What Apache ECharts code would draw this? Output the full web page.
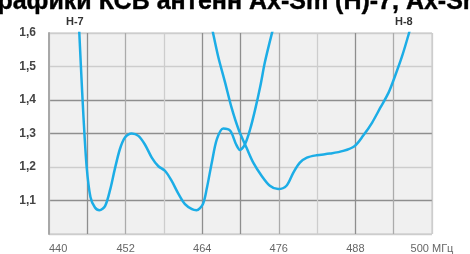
<!DOCTYPE html>
<html>
<head>
<meta charset="utf-8">
<script src="https://cdn.jsdelivr.net/npm/echarts/dist/echarts.min.js"></script>
<style>
    html, body {
        margin: 0;
        padding: 0;
        background: #fff;
    }

    #chart {
        width: 470px;
        height: 254px;
    }
</style>
</head>
<body>
<div id="chart"></div>
<script>
    // частота, МГц / КСВ
    var h7Freq = [444.65, 445.0, 445.4, 445.9, 446.5, 447.2, 447.9, 448.8, 449.6,
        450.3, 451.1, 451.9, 452.96, 454.0, 455.0, 456.1, 457.1, 458.2, 459.2,
        460.3, 461.3, 462.4, 463.1, 464.1, 464.7, 465.5, 466.3, 467.3, 468.4,
        469.3, 469.9, 470.7, 471.5, 472.3, 473.1, 473.8, 474.6, 475.2];
    var h7Swr = [1.64, 1.5, 1.35, 1.20, 1.11, 1.079, 1.071, 1.084, 1.134,
        1.193, 1.253, 1.288, 1.30, 1.293, 1.268, 1.228, 1.203, 1.188, 1.159,
        1.119, 1.089, 1.074, 1.071, 1.089, 1.134, 1.213, 1.283, 1.315, 1.308,
        1.268, 1.251, 1.268, 1.312, 1.372, 1.441, 1.511, 1.575, 1.62];

    var h8Freq = [465.4, 465.7, 466.5, 467.6, 468.6, 469.7, 471.0, 472.0, 473.3, 474.6, 475.9,
        477.2, 478.3, 479.3, 480.4, 481.9, 484.0, 486.1, 487.9, 489.2, 490.6,
        491.9, 493.2, 494.2, 495.3, 496.4, 496.8];
    var h8Swr = [1.63, 1.6, 1.53, 1.451, 1.377, 1.312, 1.255, 1.213, 1.174, 1.144, 1.134,
        1.144, 1.184, 1.213, 1.228, 1.235, 1.240, 1.248, 1.263, 1.293, 1.332,
        1.377, 1.422, 1.471, 1.53, 1.6, 1.63];

    var xTicks = [440, 452, 464, 476, 488, 500];
    var yTicks = [1.1, 1.2, 1.3, 1.4, 1.5, 1.6];

    var dark = '#8e8e8e', mid = '#ababab', light = '#cdcdcd';

    function pairs(xs, ys) {
        var out = [];
        for (var i = 0; i < xs.length; i++) {
            out.push([xs[i], ys[i]]);
        }
        return out;
    }

    var myChart = echarts.init(document.getElementById('chart'));

    var lineStyle = {color: '#1cade6', width: 2.5};

    var option = {
        animation: false,
        grid: {
            left: 49,
            right: 38,
            top: 33,
            bottom: 19,
            show: true,
            backgroundColor: '#f0f0f0',
            borderColor: '#c4c4c4',
            borderWidth: 1
        },
        graphic: [
            {
                type: 'text',
                left: -16,
                top: -11,
                style: {
                    text: 'Графики КСВ антенн Ах-Sm (Н)-7, Ах-Sm (Н)-8',
                    font: 'bold 25px "Liberation Sans", Arial, sans-serif',
                    fill: '#000',
                    stroke: '#000',
                    lineWidth: 0.4
                }
            },
            {
                type: 'text',
                left: 66,
                top: 16,
                style: {
                    text: 'Н-7',
                    font: 'bold 11px "Liberation Sans", Arial, sans-serif',
                    fill: '#333'
                }
            },
            {
                type: 'text',
                left: 395,
                top: 16,
                style: {
                    text: 'Н-8',
                    font: 'bold 11px "Liberation Sans", Arial, sans-serif',
                    fill: '#333'
                }
            }
        ],
        xAxis: {
            type: 'value',
            min: 440,
            max: 500,
            interval: 6,
            axisLine: {show: false},
            axisTick: {show: false},
            axisLabel: {
                margin: 9,
                color: '#666',
                fontSize: 11,
                fontFamily: '"Liberation Sans", Arial, sans-serif',
                alignMinLabel: 'left',
                formatter: function (v) {
                    if (xTicks.indexOf(v) < 0) {
                        return '';
                    }
                    return v === 500 ? '500 МГц' : String(v);
                }
            },
            splitLine: {
                lineStyle: {
                    width: 1.3,
                    color: [light, dark, mid, light, dark, dark, mid, light, dark, mid, light]
                }
            }
        },
        yAxis: {
            type: 'value',
            min: 1.0,
            max: 1.6,
            interval: 0.1,
            axisLine: {show: true, lineStyle: {color: '#a8a8a8', width: 2}},
            axisTick: {show: false},
            axisLabel: {
                margin: 13,
                color: '#444',
                fontSize: 12,
                fontWeight: 'bold',
                fontFamily: '"Liberation Sans", Arial, sans-serif',
                padding: [6, 0, 0, 0],
                formatter: function (v) {
                    var r = Math.round(v * 10) / 10;
                    if (yTicks.indexOf(r) < 0) {
                        return '';
                    }
                    return r.toFixed(1).replace('.', ',');
                }
            },
            splitLine: {
                lineStyle: {
                    width: 1.3,
                    color: [light, dark, light, dark, dark, light, light]
                }
            }
        },
        series: [
            {
                name: 'Н-7',
                type: 'line',
                smooth: 0.3,
                showSymbol: false,
                clip: true,
                lineStyle: lineStyle,
                data: pairs(h7Freq, h7Swr)
            },
            {
                name: 'Н-8',
                type: 'line',
                smooth: 0.3,
                showSymbol: false,
                clip: true,
                lineStyle: lineStyle,
                data: pairs(h8Freq, h8Swr)
            }
        ]
    };

    myChart.setOption(option);
</script>
</body>
</html>
